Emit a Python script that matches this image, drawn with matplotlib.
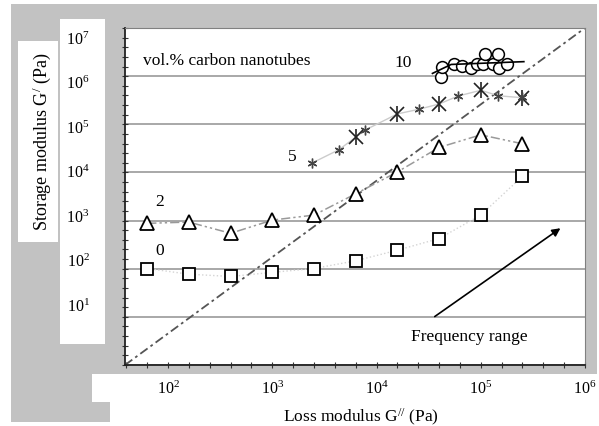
import numpy as np
import matplotlib
matplotlib.use('Agg')
import matplotlib.pyplot as plt
from matplotlib.patches import Rectangle
from matplotlib.ticker import FixedLocator, NullFormatter

plt.rcParams['font.family'] = ['Liberation Serif', 'DejaVu Serif']
plt.rcParams['mathtext.fontset'] = 'custom'
plt.rcParams['mathtext.rm'] = 'Liberation Serif'
plt.rcParams['mathtext.it'] = 'Liberation Serif:italic'
plt.rcParams['mathtext.bf'] = 'Liberation Serif:bold'

# ---------------- data ----------------
x_grid = [63.1, 158, 398, 1000, 2510, 6310, 15800, 39800, 100000, 251000]
g_0 = [101, 77, 69, 84, 101, 146, 242, 423, 1300, 8300]
g_2 = [876, 931, 544, 1024, 1300, 3600, 10200, 33000, 60400, 39400]

x_5_big = [6310, 15800, 39800, 100000, 251000]
g_5_big = [54100, 164000, 264000, 509000, 356000]
x_5_small = [2410, 4350, 7830, 25500, 60600, 146600, 251000]
g_5_small = [15700, 29600, 76500, 205000, 386000, 392000, 368000]

x_10 = [41900, 42900, 55400, 66700, 80100, 93000, 106000, 110000, 130000, 147000, 150000, 178000]
g_10 = [0.968e6, 1.56e6, 1.83e6, 1.61e6, 1.51e6, 1.83e6, 1.77e6, 2.85e6, 1.77e6, 2.85e6, 1.51e6, 1.77e6]
x_10_line = [34400, 52000, 259000]
g_10_line = [1.14e6, 1.75e6, 2.0e6]

diag_x = [38.6, 1e6]
diag_y = [1, 1e7]

arrow_start = (34400, 9.4)
arrow_end = (611000, 748)

x_limits = (38.6, 1e6)
y_limits = (1, 1e7)

# ---------------- figure ----------------
W, H = 599, 427
fig = plt.figure(figsize=(W / 100, H / 100), dpi=100)
fig.patch.set_facecolor('white')

def frect(x0, y0, x1, y1, color):
    fig.add_artist(Rectangle((x0 / W, 1 - y1 / H), (x1 - x0) / W, (y1 - y0) / H,
                             transform=fig.transFigure, facecolor=color,
                             edgecolor='none', zorder=-10))

gray = '#c2c2c2'
frect(11, 5, 597, 375, gray)
frect(11, 375, 92, 423, gray)
frect(92, 403, 110, 423, gray)
frect(18, 42, 58, 243, 'white')
frect(60, 20, 105, 345, 'white')

ax = fig.add_axes([125 / W, 1 - 366 / H, 460 / W, 337 / H])
ax.set_facecolor('white')
ax.set_xscale('log')
ax.set_yscale('log')
ax.set_xlim(*x_limits)
ax.set_ylim(*y_limits)

# ticks every 0.2 decade
xmaj = 10.0 ** np.arange(2, 7)
xmin = [10.0 ** (d + f) for d in range(1, 6) for f in (0.2, 0.4, 0.6, 0.8)]
ymaj = 10.0 ** np.arange(0, 8)
ymin = [10.0 ** (d + f) for d in range(0, 7) for f in (0.2, 0.4, 0.6, 0.8)]
ax.xaxis.set_major_locator(FixedLocator(xmaj))
ax.xaxis.set_minor_locator(FixedLocator(xmin))
ax.yaxis.set_major_locator(FixedLocator(ymaj))
ax.yaxis.set_minor_locator(FixedLocator(ymin))
ax.xaxis.set_minor_formatter(NullFormatter())
ax.yaxis.set_minor_formatter(NullFormatter())
ax.tick_params(which='both', direction='inout', length=5, width=0.8, color='#333',
               top=False, right=False)
ax.tick_params(axis='x', which='major', labelsize=11.5, pad=8)
ax.tick_params(axis='y', which='both', labelleft=False, length=4)

ax.yaxis.grid(True, which='major', color='#9a9a9a', lw=1.2)
ax.set_axisbelow(True)

for s in ('left', 'bottom'):
    ax.spines[s].set_color('#222')
    ax.spines[s].set_linewidth(1.3)
for s in ('top', 'right'):
    ax.spines[s].set_color('#808080')
    ax.spines[s].set_linewidth(0.8)

# diagonal
ax.plot(diag_x, diag_y, color='#555', lw=1.3, dashes=(5, 2, 1.5, 2), zorder=2)

# 0 vol%
ax.plot(x_grid, g_0, color='#d4d4d4', lw=1, ls=':', zorder=3)
ax.plot(x_grid, g_0, ls='none', marker='s', ms=8.5, mfc='white', mec='black', mew=1.3, zorder=4)

# 2 vol%
ax.plot(x_grid, g_2, color='#9a9a9a', lw=1.1, dashes=(6, 2, 1.5, 2, 1.5, 2), zorder=3)
ax.plot(x_grid, g_2, ls='none', marker='^', ms=9.5, mfc='white', mec='black', mew=1.3, zorder=4)

# 5 vol%
pts5 = sorted(zip(x_5_big + x_5_small, g_5_big + g_5_small))
ax.plot([p[0] for p in pts5], [p[1] for p in pts5], color='#cccccc', lw=1, zorder=3)
ax.plot(x_5_big, g_5_big, ls='none', marker='x', ms=10, mec='#222', mew=1.2, zorder=4)
ax.plot(x_5_big, g_5_big, ls='none', marker='|', ms=12, mec='#222', mew=1.2, zorder=4)
ax.plot(x_5_small, g_5_small, ls='none', marker=(6, 2, 0), ms=7, mec='#444', mew=1.0, zorder=4)

# 10 vol%
ax.plot(x_10, g_10, ls='none', marker='o', ms=8.5, mfc='white', mec='black', mew=1.1, zorder=4)
ax.plot(x_10_line, g_10_line, color='black', lw=1.2, zorder=5)

# arrow
ax.annotate('', xy=arrow_end, xytext=arrow_start,
            arrowprops=dict(arrowstyle='-|>', color='black', lw=1.2, mutation_scale=12))

# annotations
fs = 12.5
ax.text(57.5, 2.14e6, 'vol.% carbon nanotubes', fontsize=fs, ha='left', va='center')
ax.text(17800, 1.95e6, '10', fontsize=fs, ha='center', va='center')
ax.text(1545, 21500, '5', fontsize=fs, ha='center', va='center')
ax.text(83.8, 2530, '2', fontsize=fs, ha='center', va='center')
ax.text(83.8, 242, '0', fontsize=fs, ha='center', va='center')
ax.text(78300, 4.05, 'Frequency range', fontsize=fs, ha='center', va='center')

# axis labels
ax.set_xlabel(r'Loss modulus G$^{//}$ (Pa)', fontsize=12.5)
ax.xaxis.set_label_coords(0.513, -0.12)
ax.set_ylabel(r'Storage modulus G$^{/}$ (Pa)', fontsize=13, ha='center', va='center')
ax.yaxis.set_label_coords(-0.181, 0.665)

# y tick labels, laid out in their own white panel
ax2 = fig.add_axes([105 / W, 1 - 349.5 / H, 0.001, 311.5 / H])
ax2.set_yscale('log')
ax2.set_ylim(*y_limits)
ax2.yaxis.set_major_locator(FixedLocator(10.0 ** np.arange(1, 8)))
ax2.yaxis.set_minor_locator(FixedLocator([]))
ax2.set_xticks([])
ax2.patch.set_visible(False)
for s in ax2.spines.values():
    s.set_visible(False)
ax2.tick_params(axis='y', length=0, pad=11, labelsize=11.5)

fig.savefig('out.png', dpi=100)
